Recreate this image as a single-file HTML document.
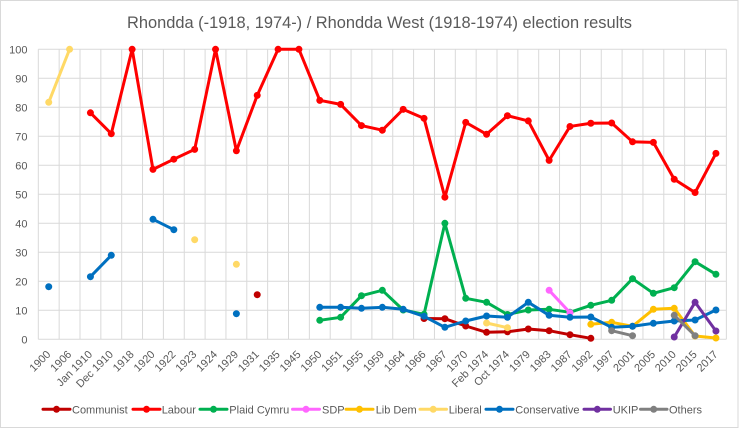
<!DOCTYPE html>
<html><head><meta charset="utf-8"><style>
html,body{margin:0;padding:0;background:#fff;}
svg{display:block;font-family:"Liberation Sans",sans-serif;}
</style></head><body>
<svg width="741" height="429" viewBox="0 0 741 429" xmlns="http://www.w3.org/2000/svg">
<defs>
<marker id="mC" viewBox="-4 -4 8 8" markerWidth="8" markerHeight="8" markerUnits="userSpaceOnUse"><circle r="3.5" fill="#C00000"/></marker>
<marker id="mL" viewBox="-4 -4 8 8" markerWidth="8" markerHeight="8" markerUnits="userSpaceOnUse"><circle r="3.5" fill="#FF0000"/></marker>
<marker id="mP" viewBox="-4 -4 8 8" markerWidth="8" markerHeight="8" markerUnits="userSpaceOnUse"><circle r="3.5" fill="#00B050"/></marker>
<marker id="mS" viewBox="-4 -4 8 8" markerWidth="8" markerHeight="8" markerUnits="userSpaceOnUse"><circle r="3.5" fill="#FF66FF"/></marker>
<marker id="mD" viewBox="-4 -4 8 8" markerWidth="8" markerHeight="8" markerUnits="userSpaceOnUse"><circle r="3.5" fill="#FFC000"/></marker>
<marker id="mY" viewBox="-4 -4 8 8" markerWidth="8" markerHeight="8" markerUnits="userSpaceOnUse"><circle r="3.5" fill="#FFD966"/></marker>
<marker id="mB" viewBox="-4 -4 8 8" markerWidth="8" markerHeight="8" markerUnits="userSpaceOnUse"><circle r="3.5" fill="#0070C0"/></marker>
<marker id="mU" viewBox="-4 -4 8 8" markerWidth="8" markerHeight="8" markerUnits="userSpaceOnUse"><circle r="3.5" fill="#7030A0"/></marker>
<marker id="mO" viewBox="-4 -4 8 8" markerWidth="8" markerHeight="8" markerUnits="userSpaceOnUse"><circle r="3.5" fill="#808080"/></marker>
</defs>
<rect x="0.5" y="0.5" width="737.5" height="427" fill="#fff" stroke="#D9D9D9" stroke-width="1"/>
<text x="379.5" y="28" font-size="17" fill="#595959" text-anchor="middle" textLength="505" lengthAdjust="spacingAndGlyphs">Rhondda (-1918, 1974-) / Rhondda West (1918-1974) election results</text>

<g stroke="#D9D9D9" stroke-width="1">
<line x1="38.3" y1="339.3" x2="726.35" y2="339.3"/>
<line x1="38.3" y1="310.3" x2="726.35" y2="310.3"/>
<line x1="38.3" y1="281.3" x2="726.35" y2="281.3"/>
<line x1="38.3" y1="252.3" x2="726.35" y2="252.3"/>
<line x1="38.3" y1="223.3" x2="726.35" y2="223.3"/>
<line x1="38.3" y1="194.3" x2="726.35" y2="194.3"/>
<line x1="38.3" y1="165.3" x2="726.35" y2="165.3"/>
<line x1="38.3" y1="136.3" x2="726.35" y2="136.3"/>
<line x1="38.3" y1="107.3" x2="726.35" y2="107.3"/>
<line x1="38.3" y1="78.3" x2="726.35" y2="78.3"/>
<line x1="38.3" y1="49.3" x2="726.35" y2="49.3"/>
<line x1="38.30" y1="49.3" x2="38.30" y2="339.3"/>
<line x1="59.15" y1="49.3" x2="59.15" y2="339.3"/>
<line x1="80.00" y1="49.3" x2="80.00" y2="339.3"/>
<line x1="100.85" y1="49.3" x2="100.85" y2="339.3"/>
<line x1="121.70" y1="49.3" x2="121.70" y2="339.3"/>
<line x1="142.55" y1="49.3" x2="142.55" y2="339.3"/>
<line x1="163.40" y1="49.3" x2="163.40" y2="339.3"/>
<line x1="184.25" y1="49.3" x2="184.25" y2="339.3"/>
<line x1="205.10" y1="49.3" x2="205.10" y2="339.3"/>
<line x1="225.95" y1="49.3" x2="225.95" y2="339.3"/>
<line x1="246.80" y1="49.3" x2="246.80" y2="339.3"/>
<line x1="267.65" y1="49.3" x2="267.65" y2="339.3"/>
<line x1="288.50" y1="49.3" x2="288.50" y2="339.3"/>
<line x1="309.35" y1="49.3" x2="309.35" y2="339.3"/>
<line x1="330.20" y1="49.3" x2="330.20" y2="339.3"/>
<line x1="351.05" y1="49.3" x2="351.05" y2="339.3"/>
<line x1="371.90" y1="49.3" x2="371.90" y2="339.3"/>
<line x1="392.75" y1="49.3" x2="392.75" y2="339.3"/>
<line x1="413.60" y1="49.3" x2="413.60" y2="339.3"/>
<line x1="434.45" y1="49.3" x2="434.45" y2="339.3"/>
<line x1="455.30" y1="49.3" x2="455.30" y2="339.3"/>
<line x1="476.15" y1="49.3" x2="476.15" y2="339.3"/>
<line x1="497.00" y1="49.3" x2="497.00" y2="339.3"/>
<line x1="517.85" y1="49.3" x2="517.85" y2="339.3"/>
<line x1="538.70" y1="49.3" x2="538.70" y2="339.3"/>
<line x1="559.55" y1="49.3" x2="559.55" y2="339.3"/>
<line x1="580.40" y1="49.3" x2="580.40" y2="339.3"/>
<line x1="601.25" y1="49.3" x2="601.25" y2="339.3"/>
<line x1="622.10" y1="49.3" x2="622.10" y2="339.3"/>
<line x1="642.95" y1="49.3" x2="642.95" y2="339.3"/>
<line x1="663.80" y1="49.3" x2="663.80" y2="339.3"/>
<line x1="684.65" y1="49.3" x2="684.65" y2="339.3"/>
<line x1="705.50" y1="49.3" x2="705.50" y2="339.3"/>
<line x1="726.35" y1="49.3" x2="726.35" y2="339.3"/>
</g>

<g font-size="11" fill="#595959" text-anchor="end">
<text x="27.5" y="343.3">0</text>
<text x="27.5" y="314.3">10</text>
<text x="27.5" y="285.3">20</text>
<text x="27.5" y="256.3">30</text>
<text x="27.5" y="227.3">40</text>
<text x="27.5" y="198.3">50</text>
<text x="27.5" y="169.3">60</text>
<text x="27.5" y="140.3">70</text>
<text x="27.5" y="111.3">80</text>
<text x="27.5" y="82.3">90</text>
<text x="27.5" y="53.3">100</text>
</g>

<g font-size="11" fill="#595959" text-anchor="end">
<text transform="translate(51.2,355) rotate(-45)">1900</text>
<text transform="translate(72.1,355) rotate(-45)">1906</text>
<text transform="translate(92.9,355) rotate(-45)">Jan 1910</text>
<text transform="translate(113.8,355) rotate(-45)">Dec 1910</text>
<text transform="translate(134.6,355) rotate(-45)">1918</text>
<text transform="translate(155.5,355) rotate(-45)">1920</text>
<text transform="translate(176.3,355) rotate(-45)">1922</text>
<text transform="translate(197.2,355) rotate(-45)">1923</text>
<text transform="translate(218.0,355) rotate(-45)">1924</text>
<text transform="translate(238.9,355) rotate(-45)">1929</text>
<text transform="translate(259.7,355) rotate(-45)">1931</text>
<text transform="translate(280.6,355) rotate(-45)">1935</text>
<text transform="translate(301.4,355) rotate(-45)">1945</text>
<text transform="translate(322.3,355) rotate(-45)">1950</text>
<text transform="translate(343.1,355) rotate(-45)">1951</text>
<text transform="translate(364.0,355) rotate(-45)">1955</text>
<text transform="translate(384.8,355) rotate(-45)">1959</text>
<text transform="translate(405.7,355) rotate(-45)">1964</text>
<text transform="translate(426.5,355) rotate(-45)">1966</text>
<text transform="translate(447.4,355) rotate(-45)">1967</text>
<text transform="translate(468.2,355) rotate(-45)">1970</text>
<text transform="translate(489.1,355) rotate(-45)">Feb 1974</text>
<text transform="translate(509.9,355) rotate(-45)">Oct 1974</text>
<text transform="translate(530.8,355) rotate(-45)">1979</text>
<text transform="translate(551.6,355) rotate(-45)">1983</text>
<text transform="translate(572.5,355) rotate(-45)">1987</text>
<text transform="translate(593.3,355) rotate(-45)">1992</text>
<text transform="translate(614.2,355) rotate(-45)">1997</text>
<text transform="translate(635.0,355) rotate(-45)">2001</text>
<text transform="translate(655.9,355) rotate(-45)">2005</text>
<text transform="translate(676.7,355) rotate(-45)">2010</text>
<text transform="translate(697.6,355) rotate(-45)">2015</text>
<text transform="translate(718.4,355) rotate(-45)">2017</text>
</g>

<g fill="none" stroke-width="3" stroke-linejoin="round" stroke-linecap="round">
<!-- Communist -->
<circle cx="257.23" cy="294.7" r="3.5" fill="#C00000" stroke="none"/>
<polyline stroke="#C00000" marker-start="url(#mC)" marker-mid="url(#mC)" marker-end="url(#mC)" points="424.03,318.5 444.88,318.7 465.73,326.0 486.58,332.3 507.43,331.8 528.28,329.0 549.13,330.7 569.98,334.7 590.83,338.3"/>
<!-- Labour -->
<polyline stroke="#FF0000" marker-start="url(#mL)" marker-mid="url(#mL)" marker-end="url(#mL)" points="90.43,112.81 111.28,133.69 132.13,49.3 152.98,169.36 173.83,159.21 194.68,149.35 215.53,49.3 236.38,150.8 257.23,95.41 278.08,49.3 298.93,49.3 319.78,100.34 340.63,104.4 361.48,125.57 382.33,130.21 403.18,109.33 424.03,118.32 444.88,197.2 465.73,122.38 486.58,134.27 507.43,115.71 528.28,120.93 549.13,160.37 569.98,126.44 590.83,123.25 611.68,122.96 632.53,141.81 653.38,142.39 674.23,179.22 695.08,192.56 715.93,153.41"/>
<!-- Plaid Cymru -->
<polyline stroke="#00B050" marker-start="url(#mP)" marker-mid="url(#mP)" marker-end="url(#mP)" points="319.78,320.3 340.63,317.3 361.48,295.7 382.33,290.3 403.18,310.0 424.03,314.3 444.88,223.3 465.73,298.3 486.58,302.3 507.43,314.5 528.28,310.0 549.13,309.3 569.98,312.3 590.83,305.3 611.68,300.3 632.53,278.7 653.38,293.3 674.23,287.7 695.08,261.7 715.93,274.3"/>
<!-- SDP -->
<polyline stroke="#FF66FF" marker-start="url(#mS)" marker-end="url(#mS)" points="549.13,290.3 569.98,312.7"/>
<!-- Lib Dem -->
<polyline stroke="#FFC000" marker-start="url(#mD)" marker-mid="url(#mD)" marker-end="url(#mD)" points="590.83,324.3 611.68,322.3 632.53,326.3 653.38,309.3 674.23,308.3 695.08,336.0 715.93,338.0"/>
<!-- Liberal -->
<polyline stroke="#FFD966" marker-start="url(#mY)" marker-end="url(#mY)" points="48.73,102.3 69.58,49.3"/>
<circle cx="194.68" cy="239.7" r="3.5" fill="#FFD966" stroke="none"/>
<circle cx="236.38" cy="264.3" r="3.5" fill="#FFD966" stroke="none"/>
<polyline stroke="#FFD966" marker-start="url(#mY)" marker-end="url(#mY)" points="486.58,323.0 507.43,327.7"/>
<!-- Conservative -->
<circle cx="48.73" cy="286.7" r="3.5" fill="#0070C0" stroke="none"/>
<polyline stroke="#0070C0" marker-start="url(#mB)" marker-end="url(#mB)" points="90.43,276.7 111.28,255.3"/>
<polyline stroke="#0070C0" marker-start="url(#mB)" marker-end="url(#mB)" points="152.98,219.3 173.83,229.7"/>
<circle cx="236.38" cy="313.7" r="3.5" fill="#0070C0" stroke="none"/>
<polyline stroke="#0070C0" marker-start="url(#mB)" marker-mid="url(#mB)" marker-end="url(#mB)" points="319.78,307.3 340.63,307.3 361.48,308.3 382.33,307.3 403.18,309.3 424.03,316.3 444.88,327.3 465.73,321.0 486.58,316.0 507.43,317.3 528.28,302.3 549.13,315.3 569.98,317.3 590.83,317.0 611.68,327.3 632.53,326.3 653.38,323.3 674.23,321.0 695.08,320.0 715.93,310.0"/>
<!-- UKIP -->
<polyline stroke="#7030A0" marker-start="url(#mU)" marker-mid="url(#mU)" marker-end="url(#mU)" points="674.23,337.0 695.08,302.3 715.93,331.0"/>
<!-- Others -->
<polyline stroke="#808080" marker-start="url(#mO)" marker-end="url(#mO)" points="611.68,330.7 632.53,335.7"/>
<polyline stroke="#808080" marker-start="url(#mO)" marker-end="url(#mO)" points="674.23,315.3 695.08,335.7"/>
</g>

<!-- Legend -->
<g stroke-width="3" stroke-linecap="round">
<line x1="43" y1="409.3" x2="70" y2="409.3" stroke="#C00000"/><circle cx="56.5" cy="409.3" r="3.5" fill="#C00000"/>
<line x1="133" y1="409.3" x2="160" y2="409.3" stroke="#FF0000"/><circle cx="146.5" cy="409.3" r="3.5" fill="#FF0000"/>
<line x1="200" y1="409.3" x2="227" y2="409.3" stroke="#00B050"/><circle cx="213.5" cy="409.3" r="3.5" fill="#00B050"/>
<line x1="292.5" y1="409.3" x2="319.5" y2="409.3" stroke="#FF66FF"/><circle cx="306" cy="409.3" r="3.5" fill="#FF66FF"/>
<line x1="346" y1="409.3" x2="373" y2="409.3" stroke="#FFC000"/><circle cx="359.5" cy="409.3" r="3.5" fill="#FFC000"/>
<line x1="420" y1="409.3" x2="446.5" y2="409.3" stroke="#FFD966"/><circle cx="433.2" cy="409.3" r="3.5" fill="#FFD966"/>
<line x1="486" y1="409.3" x2="513" y2="409.3" stroke="#0070C0"/><circle cx="499.5" cy="409.3" r="3.5" fill="#0070C0"/>
<line x1="584" y1="409.3" x2="610.5" y2="409.3" stroke="#7030A0"/><circle cx="597.3" cy="409.3" r="3.5" fill="#7030A0"/>
<line x1="640.5" y1="409.3" x2="667" y2="409.3" stroke="#808080"/><circle cx="653.7" cy="409.3" r="3.5" fill="#808080"/>
</g>
<g font-size="11" fill="#595959">
<text x="72" y="413.3">Communist</text>
<text x="161.7" y="413.3">Labour</text>
<text x="229.3" y="413.3">Plaid Cymru</text>
<text x="322" y="413.3">SDP</text>
<text x="375.7" y="413.3">Lib Dem</text>
<text x="448.7" y="413.3">Liberal</text>
<text x="515.3" y="413.3">Conservative</text>
<text x="612.7" y="413.3">UKIP</text>
<text x="669" y="413.3">Others</text>
</g>
</svg>
</body></html>
